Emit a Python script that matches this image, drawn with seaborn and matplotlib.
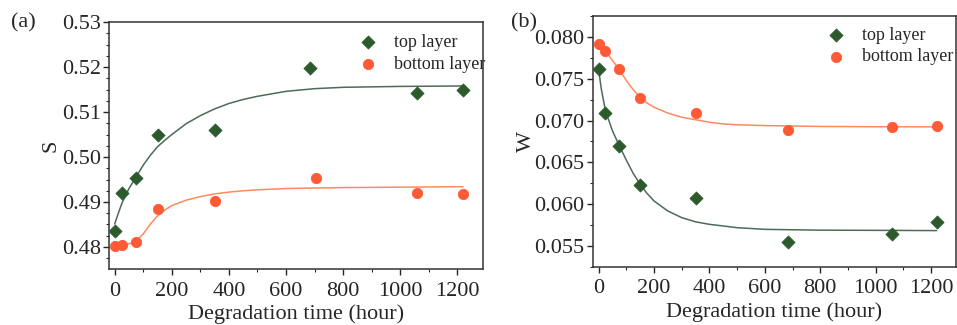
import numpy as np
import pandas as pd
import matplotlib
matplotlib.use("Agg")
import matplotlib.pyplot as plt
from matplotlib.ticker import MultipleLocator
import seaborn as sns

# --- measured points ---
t_top = [0, 25, 75, 150, 350, 685, 1060, 1220]
t_bot_s = [0, 25, 75, 150, 350, 705, 1060, 1220]
t_bot_w = [0, 25, 75, 150, 350, 685, 1060, 1220]

s_top = [0.4835, 0.4920, 0.4953, 0.5048, 0.5060, 0.5198, 0.5142, 0.5150]
s_bot = [0.4802, 0.4804, 0.4810, 0.4885, 0.4903, 0.4953, 0.4919, 0.4918]

w_top = [0.0762, 0.0709, 0.0670, 0.0623, 0.0608, 0.0555, 0.0564, 0.0579]
w_bot = [0.0791, 0.0783, 0.0762, 0.0727, 0.0709, 0.0689, 0.0692, 0.0693]

# --- fitted curves ---
fit_t = [0, 10, 25, 50, 75, 100, 125, 150, 175, 200, 250, 300, 350, 400, 450,
         500, 600, 700, 800, 1000, 1220]
s_top_fit = [0.4851, 0.4870, 0.4897, 0.4930, 0.4956, 0.4982, 0.5004, 0.5023, 0.5037,
             0.5050, 0.5074, 0.5092, 0.5107, 0.5119, 0.5128, 0.5135, 0.5146, 0.5152,
             0.5155, 0.5157, 0.5158]
s_bot_fit = [0.4802, 0.4803, 0.4805, 0.4807, 0.4813, 0.4829, 0.4851, 0.4869, 0.4882,
             0.4892, 0.4904, 0.4912, 0.4918, 0.4922, 0.4925, 0.4927, 0.4930, 0.4931,
             0.4932, 0.4933, 0.4934]
w_top_fit = [0.0762, 0.0738, 0.0712, 0.0688, 0.0670, 0.0653, 0.0637, 0.0624, 0.0613,
             0.0604, 0.0592, 0.0584, 0.0579, 0.0576, 0.0574, 0.0572, 0.0570, 0.05695,
             0.0569, 0.05688, 0.05685]
w_bot_fit = [0.0790, 0.0787, 0.0783, 0.0772, 0.0761, 0.0748, 0.0737, 0.0728, 0.0721,
             0.0716, 0.0709, 0.0704, 0.0701, 0.0698, 0.0696, 0.0695, 0.0694, 0.06935,
             0.0693, 0.06926, 0.06925]

GREEN = "#2d5a2d"
ORANGE = "#ff5a36"
GREEN_LINE = "#4d6b58"
ORANGE_LINE = "#ff8a60"

sns.set_style("ticks")
plt.rcParams["font.family"] = ["Liberation Serif", "DejaVu Serif"]

fig = plt.figure(figsize=(9.57, 3.25), dpi=100)
ax1 = fig.add_axes([0.1139, 0.1723, 0.3908, 0.7597])
ax2 = fig.add_axes([0.6196, 0.1785, 0.3794, 0.7723])


def panel(ax, t1, y1, t2, y2, f1, f2, ylabel, ypad):
    sns.lineplot(x=fit_t, y=f1, ax=ax, color=GREEN_LINE, lw=1.1, zorder=2)
    sns.lineplot(x=fit_t, y=f2, ax=ax, color=ORANGE_LINE, lw=1.1, zorder=2)
    sns.scatterplot(x=t1, y=y1, ax=ax, marker="D", s=45, color=GREEN,
                    edgecolor=GREEN, label="top layer", zorder=3)
    sns.scatterplot(x=t2, y=y2, ax=ax, marker="o", s=55, color=ORANGE,
                    edgecolor=ORANGE, label="bottom layer", zorder=3)
    ax.set_xlim(-20, 1290)
    ax.set_xticks([0, 200, 400, 600, 800, 1000, 1200])
    ax.xaxis.set_minor_locator(MultipleLocator(100))
    ax.set_xlabel("Degradation time (hour)", fontsize=16, labelpad=3)
    ax.set_ylabel(ylabel, fontsize=16, labelpad=ypad)
    ax.tick_params(axis="both", which="major", labelsize=16, direction="out",
                   length=4, width=1, pad=2)
    ax.tick_params(axis="x", which="major", pad=5)
    ax.tick_params(axis="both", which="minor", direction="out", length=2.5, width=0.8)
    for sp in ax.spines.values():
        sp.set_visible(True)
        sp.set_linewidth(1.1)
        sp.set_color("#333333")
    ax.legend(loc="upper left", frameon=False, fontsize=13, handletextpad=0.45,
              labelspacing=0.25, borderaxespad=0.2, markerscale=1.0)


panel(ax1, t_top, s_top, t_bot_s, s_bot, s_top_fit, s_bot_fit, "S", 1)
ax1.set_ylim(0.4751, 0.530)
ax1.set_yticks([0.48, 0.49, 0.50, 0.51, 0.52, 0.53])
ax1.set_yticklabels(["0.48", "0.49", "0.50", "0.51", "0.52", "0.53"])
ax1.yaxis.set_minor_locator(MultipleLocator(0.0025))
ax1.get_legend().set_bbox_to_anchor((0.615, 0.995))

panel(ax2, t_top, w_top, t_bot_w, w_bot, w_top_fit, w_bot_fit, "W", -1)
ax2.set_ylim(0.0525, 0.0825)
ax2.set_yticks([0.055, 0.060, 0.065, 0.070, 0.075, 0.080])
ax2.set_yticklabels(["0.055", "0.060", "0.065", "0.070", "0.075", "0.080"])
ax2.yaxis.set_minor_locator(MultipleLocator(0.0025))
ax2.get_legend().set_bbox_to_anchor((0.59, 1.0))

fig.text(0.012, 0.93, "(a)", fontsize=16, va="center")
fig.text(0.534, 0.93, "(b)", fontsize=16, va="center")

fig.savefig("out.png", dpi=100)
